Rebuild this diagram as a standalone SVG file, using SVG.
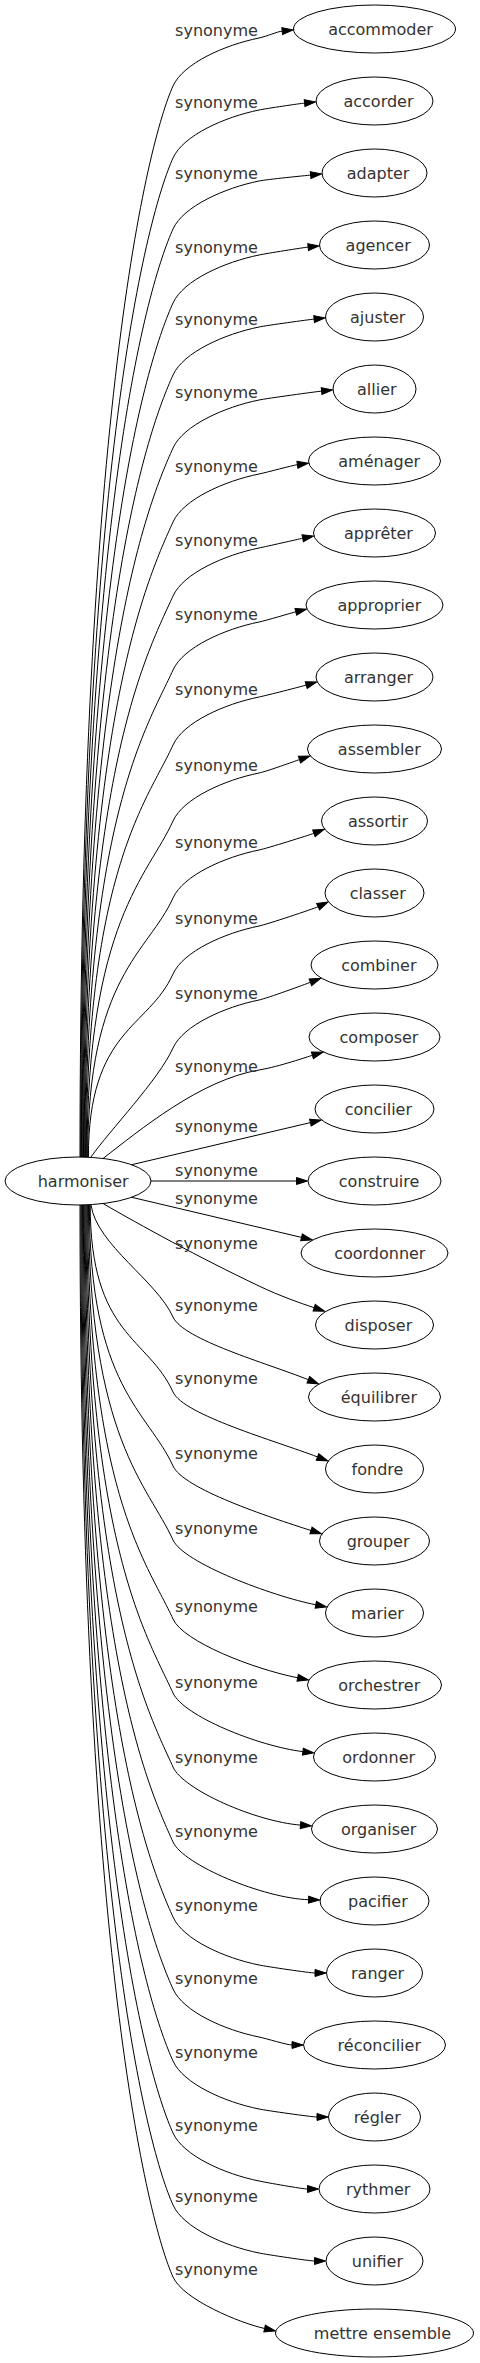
<svg xmlns="http://www.w3.org/2000/svg" width="480" height="2363" viewBox="0 0 480 2363">
<style>
text{font-family:"DejaVu Sans","Liberation Sans",sans-serif;font-size:16px;fill:#333;text-anchor:middle}
.node ellipse{fill:none;stroke:#000;stroke-width:1}
#edges path{fill:none;stroke:#000;stroke-width:1;marker-end:url(#arrow)}
</style>
<defs>
<marker id="arrow" markerUnits="userSpaceOnUse" viewBox="-1 -1 14 11" markerWidth="14" markerHeight="11" refX="0" refY="4.5" orient="auto" overflow="visible">
<path d="M0,1 L11,4.5 L0,8 z" fill="#000" stroke="#000" stroke-width="1"/>
</marker>
</defs>
<rect width="480" height="2363" fill="#fff"/>
<g id="edges">
<path d="M80,1157 C80,407.3 148.4,140.6 173,86 c10.3,-22.8 51.7,-41 86,-48 C266.8,36.4 277.2,31.6 282.2,31.1"/>
<path d="M80.7,1157 C80.7,457.7 148.4,212.6 173,158 c10.3,-22.8 51.7,-41 86,-48 C266.8,108.4 299.6,103.6 304.6,103.1"/>
<path d="M81.4,1157 C81.4,507.4 148.4,283.6 173,229 c10.3,-22.8 51.7,-41 86,-48 C266.8,179.4 305.6,175.6 310.6,175.1"/>
<path d="M82.1,1157 C82.1,559.2 148.4,357.6 173,303 c10.3,-22.8 51.7,-41 86,-48 C266.8,253.4 303.1,247.6 308.1,247.1"/>
<path d="M82.8,1157 C82.8,609.6 148.4,429.6 173,375 c10.3,-22.8 51.7,-41 86,-48 C266.8,325.4 309.1,319.6 314.1,319.1"/>
<path d="M83.5,1157 C83.5,660.7 148.4,502.6 173,448 c10.3,-22.8 51.7,-41 86,-48 C266.8,398.4 316.6,391.6 321.6,391.1"/>
<path d="M84.2,1157 C84.2,712.5 148.4,576.6 173,522 c10.3,-22.8 51.7,-41 86,-48 C266.8,472.4 292.4,465.4 297.4,464.7"/>
<path d="M84.9,1157 C84.9,764.3 148.4,650.6 173,596 c10.3,-22.8 51.7,-41 86,-48 C266.8,546.4 297.8,539.3 302.7,538.3"/>
<path d="M85.6,1157 C85.6,816.1 148.4,724.6 173,670 c10.3,-22.8 51.7,-41 86,-48 C266.8,620.4 291,613 295.8,611.8"/>
<path d="M86.3,1157 C86.3,868.6 148.4,799.6 173,745 c10.3,-22.8 51.7,-41 86,-48 C266.8,695.4 301.4,686.5 306.2,685.1"/>
<path d="M87,1157 C87,921.8 148.4,875.6 173,821 c10.3,-22.8 51.7,-41 86,-48 C266.8,771.4 294.7,761.2 299.5,759.6"/>
<path d="M87.7,1157 C87.7,975.7 148.4,952.6 173,898 c10.3,-22.8 51.7,-41 86,-48 C266.8,848.4 309.2,835.1 313.9,833.3"/>
<path d="M88.4,1157 C88.4,1028.9 148.4,1028.6 173,974 c10.3,-22.8 51.7,-41 86,-48 C266.8,924.4 313.6,908.8 318.1,906.7"/>
<path d="M91,1157 C110,1130 158.6,1079.9 173,1048 c10.3,-22.8 51.7,-41 86,-48 C266.8,998.4 305.8,984.1 310.4,982.3"/>
<path d="M103,1158.5 C140,1130 200,1080 259,1070 C280,1066.4 307.6,1056.7 312.4,1055.3"/>
<path d="M131.7,1164.7 L310.4,1122.6"/>
<path d="M151,1181 L296.5,1181"/>
<path d="M131.7,1197.3 L301.5,1237.4"/>
<path d="M103,1203.5 C140,1225 200,1258 259,1286 C280,1296 300,1303 314.2,1307.7"/>
<path d="M91,1205 C97,1245 156.6,1280.6 173,1317 C183.3,1339.8 266.5,1363 308.3,1379.7"/>
<path d="M90.2,1205 C90.2,1335.9 148.4,1337.4 173,1392 C183.3,1414.8 275.4,1440.9 317.5,1456.9"/>
<path d="M89.35,1205 C89.35,1387.7 148.4,1411.4 173,1466 C183.3,1488.8 268.2,1516.8 311,1530.5"/>
<path d="M88.5,1205 C88.5,1439.5 148.4,1485.4 173,1540 C183.3,1562.8 271.7,1596 315.8,1604.8"/>
<path d="M87.65,1205 C87.65,1494.8 148.4,1564.4 173,1619 C183.3,1641.8 253.6,1669 297.7,1677.8"/>
<path d="M86.8,1205 C86.8,1546.6 148.4,1638.4 173,1693 C183.3,1715.8 258.2,1746.2 302.9,1751.6"/>
<path d="M85.95,1205 C85.95,1598.4 148.4,1712.4 173,1767 C183.3,1789.8 255.6,1821.5 300.5,1825.1"/>
<path d="M85.1,1205 C85.1,1650.9 148.4,1787.4 173,1842 C183.3,1864.8 263.6,1898.3 308.6,1899.7"/>
<path d="M84.25,1205 C84.25,1703.4 148.4,1862.4 173,1917 c10.3,22.8 51.7,41 86,48 C266.8,1966.6 310,1973 315,1973"/>
<path d="M83.4,1205 C83.4,1753.8 148.4,1934.4 173,1989 c10.3,22.8 51.7,41 86,48 C266.8,2038.6 287,2045 292,2045"/>
<path d="M82.55,1205 C82.55,1804.2 148.4,2006.4 173,2061 c10.3,22.8 51.7,41 86,48 C266.8,2110.6 312,2117 317,2117"/>
<path d="M81.7,1205 C81.7,1854.6 148.4,2078.4 173,2133 c10.3,22.8 51.7,41 86,48 C266.8,2182.6 302.5,2189 307.5,2189"/>
<path d="M80.85,1205 C80.85,1905 148.4,2150.4 173,2205 c10.3,22.8 51.7,41 86,48 C266.8,2254.6 309.5,2261 314.5,2261"/>
<path d="M80,1205 C80,1955.4 148.4,2222.4 173,2277 C183.3,2299.8 240.2,2323.1 264.6,2328.5"/>
<g id="edge-labels">
<text x="216.5" y="36">synonyme</text>
<text x="216.5" y="107.7">synonyme</text>
<text x="216.5" y="179">synonyme</text>
<text x="216.5" y="252.7">synonyme</text>
<text x="216.5" y="325">synonyme</text>
<text x="216.5" y="398">synonyme</text>
<text x="216.5" y="471.7">synonyme</text>
<text x="216.5" y="546">synonyme</text>
<text x="216.5" y="620">synonyme</text>
<text x="216.5" y="695">synonyme</text>
<text x="216.5" y="771">synonyme</text>
<text x="216.5" y="848">synonyme</text>
<text x="216.5" y="923.7">synonyme</text>
<text x="216.5" y="999">synonyme</text>
<text x="216.5" y="1071.7">synonyme</text>
<text x="216.5" y="1132">synonyme</text>
<text x="216.5" y="1176">synonyme</text>
<text x="216.5" y="1203.7">synonyme</text>
<text x="216.5" y="1249">synonyme</text>
<text x="216.5" y="1311">synonyme</text>
<text x="216.5" y="1384.3">synonyme</text>
<text x="216.5" y="1459">synonyme</text>
<text x="216.5" y="1534.3">synonyme</text>
<text x="216.5" y="1612">synonyme</text>
<text x="216.5" y="1687.7">synonyme</text>
<text x="216.5" y="1762.7">synonyme</text>
<text x="216.5" y="1836.7">synonyme</text>
<text x="216.5" y="1911">synonyme</text>
<text x="216.5" y="1984.3">synonyme</text>
<text x="216.5" y="2057.7">synonyme</text>
<text x="216.5" y="2131">synonyme</text>
<text x="216.5" y="2202.3">synonyme</text>
<text x="216.5" y="2275">synonyme</text>
</g>
</g>
<g id="n-harmoniser" class="node"><ellipse cx="78" cy="1181" rx="73" ry="24"/><text x="83.2" y="1187">harmoniser</text></g>
<g id="n-accommoder" class="node"><ellipse cx="374.5" cy="29" rx="81" ry="24"/><text x="380.5" y="35">accommoder</text></g>
<g id="n-accorder" class="node"><ellipse cx="374.5" cy="101" rx="58.5" ry="24"/><text x="378.5" y="107">accorder</text></g>
<g id="n-adapter" class="node"><ellipse cx="374.5" cy="173" rx="52.5" ry="24"/><text x="378.1" y="179">adapter</text></g>
<g id="n-agencer" class="node"><ellipse cx="374.5" cy="245" rx="55" ry="24"/><text x="378.2" y="251">agencer</text></g>
<g id="n-ajuster" class="node"><ellipse cx="374.5" cy="317" rx="49" ry="24"/><text x="377.7" y="323">ajuster</text></g>
<g id="n-allier" class="node"><ellipse cx="374.5" cy="389" rx="41.5" ry="24"/><text x="376.8" y="395">allier</text></g>
<g id="n-amenager" class="node"><ellipse cx="374.5" cy="461" rx="66" ry="24"/><text x="379.2" y="467">aménager</text></g>
<g id="n-appreter" class="node"><ellipse cx="374.5" cy="533" rx="61" ry="24"/><text x="378.5" y="539">apprêter</text></g>
<g id="n-approprier" class="node"><ellipse cx="374.5" cy="605" rx="68.5" ry="24"/><text x="379.4" y="611">approprier</text></g>
<g id="n-arranger" class="node"><ellipse cx="374.5" cy="677" rx="58.5" ry="24"/><text x="378.5" y="683">arranger</text></g>
<g id="n-assembler" class="node"><ellipse cx="374.5" cy="749" rx="67" ry="24"/><text x="379.3" y="755">assembler</text></g>
<g id="n-assortir" class="node"><ellipse cx="374.5" cy="821" rx="53" ry="24"/><text x="378" y="827">assortir</text></g>
<g id="n-classer" class="node"><ellipse cx="374.5" cy="893" rx="49.5" ry="24"/><text x="377.7" y="899">classer</text></g>
<g id="n-combiner" class="node"><ellipse cx="374.5" cy="965" rx="63.5" ry="24"/><text x="378.8" y="971">combiner</text></g>
<g id="n-composer" class="node"><ellipse cx="374.5" cy="1037" rx="65.5" ry="24"/><text x="379" y="1043">composer</text></g>
<g id="n-concilier" class="node"><ellipse cx="374.5" cy="1109" rx="59.5" ry="24"/><text x="378.4" y="1115">concilier</text></g>
<g id="n-construire" class="node"><ellipse cx="374.5" cy="1181" rx="66.5" ry="24"/><text x="379.1" y="1187">construire</text></g>
<g id="n-coordonner" class="node"><ellipse cx="374.5" cy="1253" rx="73.5" ry="24"/><text x="379.8" y="1259">coordonner</text></g>
<g id="n-disposer" class="node"><ellipse cx="374.5" cy="1325" rx="59" ry="24"/><text x="378.4" y="1331">disposer</text></g>
<g id="n-equilibrer" class="node"><ellipse cx="374.5" cy="1397" rx="66" ry="24"/><text x="378.9" y="1403">équilibrer</text></g>
<g id="n-fondre" class="node"><ellipse cx="374.5" cy="1469" rx="49" ry="24"/><text x="377.5" y="1475">fondre</text></g>
<g id="n-grouper" class="node"><ellipse cx="374.5" cy="1541" rx="55" ry="24"/><text x="378.1" y="1547">grouper</text></g>
<g id="n-marier" class="node"><ellipse cx="374.5" cy="1613" rx="49" ry="24"/><text x="377.5" y="1619">marier</text></g>
<g id="n-orchestrer" class="node"><ellipse cx="374.5" cy="1685" rx="67" ry="24"/><text x="379.2" y="1691">orchestrer</text></g>
<g id="n-ordonner" class="node"><ellipse cx="374.5" cy="1757" rx="61" ry="24"/><text x="378.7" y="1763">ordonner</text></g>
<g id="n-organiser" class="node"><ellipse cx="374.5" cy="1829" rx="63" ry="24"/><text x="378.7" y="1835">organiser</text></g>
<g id="n-pacifier" class="node"><ellipse cx="374.5" cy="1901" rx="54.5" ry="24"/><text x="377.9" y="1907">pacifier</text></g>
<g id="n-ranger" class="node"><ellipse cx="374.5" cy="1973" rx="48" ry="24"/><text x="377.6" y="1979">ranger</text></g>
<g id="n-reconcilier" class="node"><ellipse cx="374.5" cy="2045" rx="71" ry="24"/><text x="379.3" y="2051">réconcilier</text></g>
<g id="n-regler" class="node"><ellipse cx="374.5" cy="2117" rx="46" ry="24"/><text x="377.2" y="2123">régler</text></g>
<g id="n-rythmer" class="node"><ellipse cx="374.5" cy="2189" rx="55.5" ry="24"/><text x="378.2" y="2195">rythmer</text></g>
<g id="n-unifier" class="node"><ellipse cx="374.5" cy="2261" rx="48.5" ry="24"/><text x="377.4" y="2267">unifier</text></g>
<g id="n-mettre-ensemble" class="node"><ellipse cx="374.5" cy="2333" rx="99" ry="24"/><text x="382.5" y="2339">mettre ensemble</text></g>
</svg>
